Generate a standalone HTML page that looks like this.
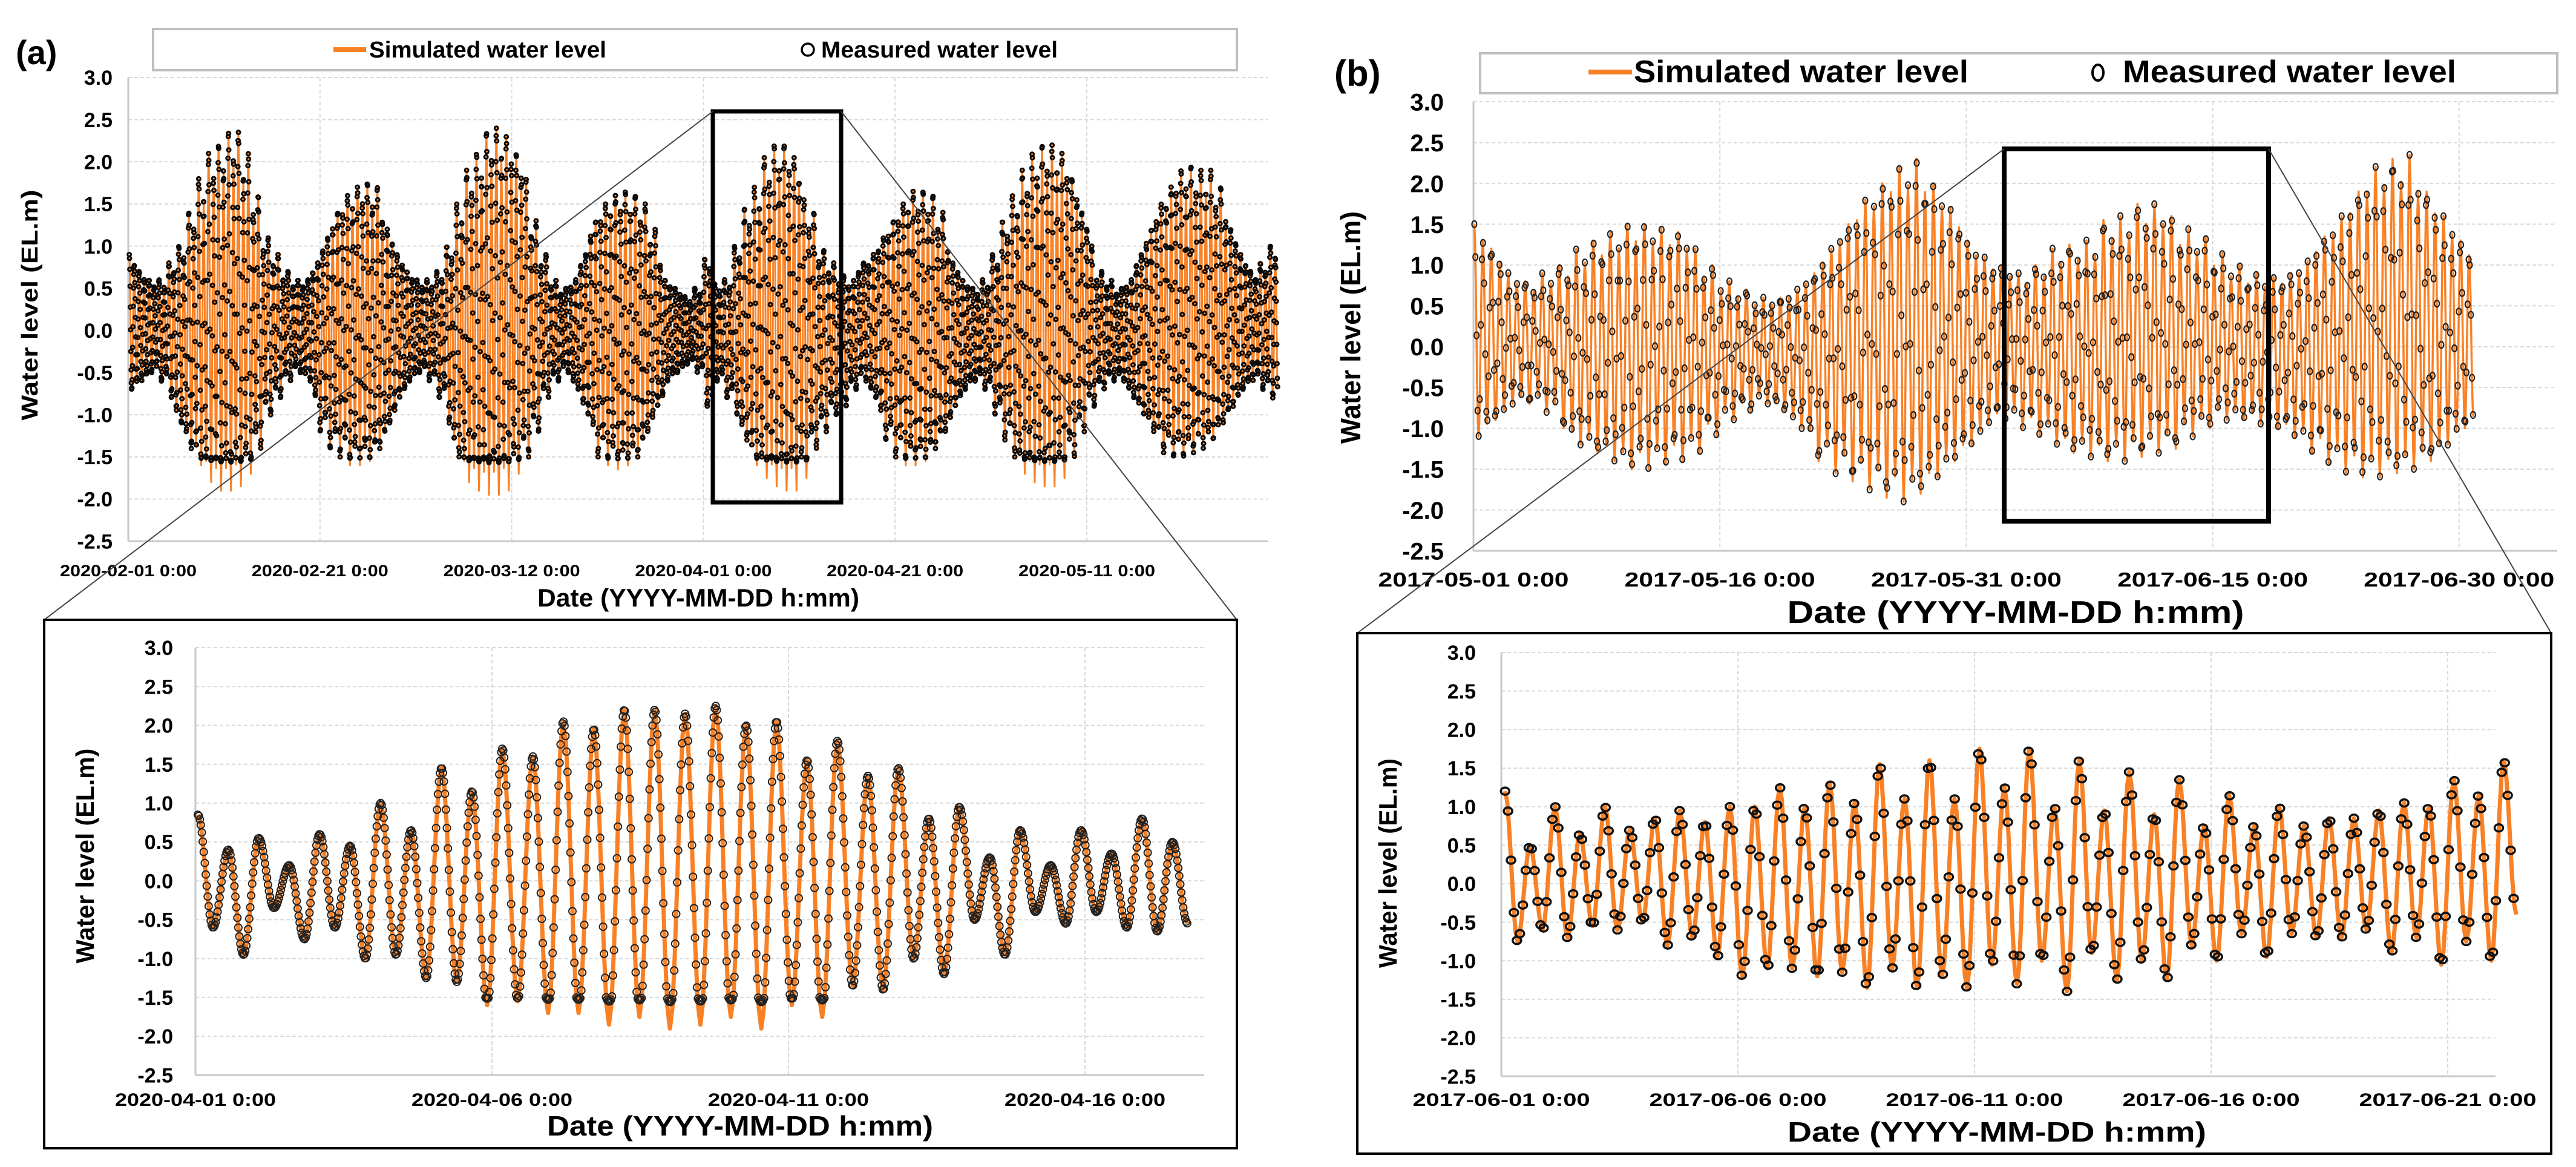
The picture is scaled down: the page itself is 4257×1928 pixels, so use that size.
<!DOCTYPE html>
<html><head><meta charset="utf-8"><title>Water level comparison</title>
<style>
html,body{margin:0;padding:0;background:#fff;}
svg{display:block;font-family:"Liberation Sans",Arial,sans-serif;font-weight:bold;}
</style></head>
<body>
<svg id="fig" xmlns="http://www.w3.org/2000/svg" width="4257" height="1928" viewBox="0 0 4257 1928">
<rect x="0" y="0" width="4257" height="1928" fill="#fff"/>
<g id="layer"></g>
</svg>
<script>
// ---------------- DATA ----------------
const yTickValues = [3.0,2.5,2.0,1.5,1.0,0.5,0.0,-0.5,-1.0,-1.5,-2.0,-2.5];

// Panel (a) overview: daily simulated high / low (2020-02-01 .. 2020-05-30)
const aTopHigh = [0.9,0.7,0.6,0.6,0.8,1.0,1.4,1.8,2.1,2.2,2.35,2.35,2.1,1.6,1.1,0.9,0.7,0.6,0.6,0.8,1.1,1.4,1.6,1.7,1.75,1.7,1.5,1.2,0.9,
0.7,0.6,0.6,0.7,1.0,1.5,1.9,2.1,2.35,2.4,2.3,2.1,1.8,1.3,0.9,0.6,0.5,0.6,0.9,1.3,1.5,1.6,1.65,1.6,1.5,1.2,0.9,0.6,0.5,0.4,0.5,
0.85,0.55,0.6,1.0,1.45,1.7,2.05,2.2,2.2,2.05,1.55,1.4,0.95,0.8,0.65,0.6,0.8,0.9,1.1,1.3,1.5,1.65,1.65,1.6,1.4,1.1,0.8,0.6,0.5,0.6,
0.9,1.3,1.6,1.9,2.1,2.2,2.2,2.1,1.8,1.4,1.0,0.7,0.6,0.5,0.6,0.9,1.2,1.5,1.7,1.9,1.95,1.9,1.9,1.7,1.5,1.2,0.9,0.7,0.8,1.0];
const aTopLow = [-0.7,-0.6,-0.5,-0.6,-0.8,-1.1,-1.4,-1.6,-1.8,-1.9,-1.9,-1.85,-1.7,-1.4,-1.0,-0.8,-0.6,-0.5,-0.6,-0.9,-1.2,-1.4,-1.5,-1.6,-1.6,-1.55,-1.4,-1.1,-0.8,
-0.6,-0.5,-0.6,-0.8,-1.1,-1.5,-1.8,-1.9,-1.95,-1.95,-1.9,-1.7,-1.5,-1.2,-0.8,-0.6,-0.5,-0.7,-1.0,-1.3,-1.5,-1.6,-1.65,-1.6,-1.5,-1.2,-0.9,-0.6,-0.5,-0.4,-0.5,
-0.9,-0.6,-0.8,-1.0,-1.3,-1.6,-1.75,-1.85,-1.9,-1.9,-1.75,-1.4,-1.2,-1.0,-0.9,-0.7,-0.6,-0.8,-1.1,-1.3,-1.5,-1.6,-1.6,-1.55,-1.4,-1.2,-0.9,-0.7,-0.6,-0.7,
-1.0,-1.3,-1.5,-1.7,-1.8,-1.85,-1.85,-1.75,-1.5,-1.2,-0.9,-0.7,-0.6,-0.6,-0.8,-1.0,-1.2,-1.35,-1.45,-1.5,-1.5,-1.45,-1.4,-1.3,-1.1,-0.9,-0.7,-0.6,-0.7,-0.8];
const aTopMeasuredFloor = -1.5;
const aTopXLabels = ['2020-02-01 0:00','2020-02-21 0:00','2020-03-12 0:00','2020-04-01 0:00','2020-04-21 0:00','2020-05-11 0:00'];
const aTopXTickDays = [0,20,40,60,80,100];

// Panel (a) zoom: successive tidal extrema (2020-04-01 .. 2020-04-18)
const aZoomExtrema = [0.85,-0.6,0.4,-0.95,0.55,-0.35,0.2,-0.75,0.6,-0.6,0.45,-1.0,1.0,-0.95,0.65,-1.25,1.45,-1.3,1.15,-1.6,1.7,-1.55,1.6,-1.7,2.05,-1.7,1.95,-1.85,2.2,-1.75,2.2,-1.9,2.15,-1.85,2.25,-1.75,2.0,-1.9,2.05,-1.6,1.55,-1.75,1.8,-1.35,1.35,-1.4,1.45,-1.0,0.8,-1.2,0.95,-0.5,0.3,-0.95,0.65,-0.4,0.2,-0.55,0.65,-0.4,0.35,-0.6,0.8,-0.65,0.5,-0.55];
const aZoomMeasuredFloor = -1.5;
const aZoomXLabels = ['2020-04-01 0:00','2020-04-06 0:00','2020-04-11 0:00','2020-04-16 0:00'];
const aZoomXTickDays = [0,5,10,15];

// Panel (b) overview: daily simulated high / low (2017-05-01 .. 2017-06-30)
const bTopHigh = [1.5,1.2,0.9,0.8,0.9,1.0,1.2,1.3,1.4,1.5,1.5,1.45,1.4,1.2,1.0,0.8,0.7,0.6,0.6,0.7,0.9,1.2,1.5,1.8,2.0,2.2,2.3,2.2,2.0,1.7,1.3,
1.1,1.0,0.9,1.0,1.2,1.25,1.3,1.55,1.6,1.75,1.75,1.6,1.45,1.35,1.15,1.0,0.9,0.85,0.9,1.05,1.35,1.6,1.9,2.2,2.3,2.35,2.2,1.9,1.6,1.3];
const bTopLow = [-1.1,-0.9,-0.7,-0.7,-0.8,-1.0,-1.2,-1.3,-1.4,-1.5,-1.5,-1.45,-1.4,-1.3,-1.1,-0.9,-0.8,-0.7,-0.8,-1.0,-1.2,-1.4,-1.55,-1.65,-1.75,-1.85,-1.9,-1.8,-1.6,-1.4,-1.2,
-0.95,-0.9,-1.0,-1.1,-1.2,-1.3,-1.35,-1.4,-1.4,-1.35,-1.3,-1.25,-1.1,-1.0,-0.9,-0.9,-0.95,-1.0,-1.1,-1.2,-1.3,-1.45,-1.55,-1.6,-1.6,-1.55,-1.5,-1.4,-1.2,-1.0];
const bTopXLabels = ['2017-05-01 0:00','2017-05-16 0:00','2017-05-31 0:00','2017-06-15 0:00','2017-06-30 0:00'];
const bTopXTickDays = [0,15,30,45,60];

// Panel (b) zoom: successive tidal extrema (2017-06-01 .. 2017-06-22)
const bZoomExtrema = [1.2,-0.75,0.5,-0.6,1.0,-0.7,0.65,-0.55,1.0,-0.6,0.7,-0.5,0.85,-0.8,0.95,-0.7,0.8,-0.95,1.0,-1.2,1.0,-1.1,1.25,-1.1,1.0,-1.2,1.3,-1.15,1.05,-1.35,1.55,-1.1,1.1,-1.35,1.6,-1.2,1.1,-1.35,1.75,-1.05,1.25,-1.3,1.75,-1.0,
1.0,-1.4,1.6,-0.9,0.95,-1.25,1.45,-1.0,0.9,-1.25,1.35,-0.8,0.75,-1.0,1.15,-0.65,0.75,-0.95,1.0,-0.65,0.75,-0.7,0.85,-0.7,0.85,-0.6,0.95,-0.9,1.05,-0.7,1.0,-1.05,1.35,-0.75,1.15,-1.0,1.6,-0.4];
const bZoomXLabels = ['2017-06-01 0:00','2017-06-06 0:00','2017-06-11 0:00','2017-06-16 0:00','2017-06-21 0:00'];
const bZoomXTickDays = [0,5,10,15,20];

// ---------------- RENDER ----------------
const NS = 'http://www.w3.org/2000/svg';
const layer = document.getElementById('layer');
const ORANGE = '#F98125';
function mk(tag, attrs, parent){
  const e = document.createElementNS(NS, tag);
  for (const k in attrs) e.setAttribute(k, attrs[k]);
  (parent||layer).appendChild(e);
  return e;
}
function makeScales(c){
  c.sx = d => c.x0 + d * (c.tickPx / c.tickStep);
  c.sy = v => c.yTop + (3 - v) * c.unitPx;
  return c;
}
function drawAxes(c, xLabels, xTickDays){
  const g = mk('g', {});
  
  
  const yBot = c.sy(-2.5);
  yTickValues.forEach(v => {
    const y = c.sy(v);
    if (v > -2.5) {
      const ln = mk('line', {x1:c.x0, x2:c.x1, y1:y, y2:y, stroke:'#d9d9d9', 'stroke-width':c.gridW, 'stroke-dasharray':'6,4'}, g);
      
      
    }
    const t = mk('text', {x:c.yLabelX, y:y + c.yFont*0.36, 'font-size':c.yFont, 'text-anchor':'end', fill:'#000'}, g);
    
    
    t.textContent = (v < 0 ? '-' : '') + Math.abs(v).toFixed(1);
  });
  xTickDays.forEach((d, i) => {
    const x = c.sx(d);
    const ln = mk('line', {x1:x, x2:x, y1:c.yTop, y2:yBot, stroke:'#d9d9d9', 'stroke-width':c.gridW, 'stroke-dasharray':'6,4'}, g);
    
    
    const t = mk('text', {x:x, y:c.xLabelY, 'font-size':c.xFont, 'text-anchor':'middle', textLength:c.xLabelW, lengthAdjust:'spacingAndGlyphs', fill:'#000'}, g);
    
    
    t.textContent = xLabels[i];
  });
  const ax = mk('line', {x1:c.x0, x2:c.x0, y1:c.yTop, y2:yBot, stroke:'#c8c8c8', 'stroke-width':3}, g);
  
  
  const bx = mk('line', {x1:c.x0, x2:c.x1, y1:yBot, y2:yBot, stroke:'#c8c8c8', 'stroke-width':3}, g);
  
  
  const xt = mk('text', {x:c.xTitleX, y:c.xTitleY, 'font-size':c.xTitleFont, 'text-anchor':'middle', textLength:c.xTitleW, lengthAdjust:'spacingAndGlyphs', fill:'#000'}, g);
  
  
  xt.textContent = 'Date (YYYY-MM-DD h:mm)';
  const yt = mk('text', {x:0, y:0, transform:'translate(' + c.yTitleX + ',' + c.yTitleY + ') rotate(-90)', 'font-size':c.yTitleFont, 'text-anchor':'middle', textLength:c.yTitleW, lengthAdjust:'spacingAndGlyphs', fill:'#000'}, g);
  
  
  yt.textContent = 'Water level (EL.m)';
}
function extremaFromDaily(high, low, halfPeriod, t0){
  const out = [];
  for (let k = 0; ; k++) {
    const t = t0 + k * halfPeriod;
    const day = Math.floor(t);
    if (day >= high.length) break;
    const minor = Math.floor(k / 2) % 2 === 1 ? 0.86 : 1;
    out.push([t, (k % 2 === 0 ? high[day] : low[day]) * minor]);
  }
  return out;
}
function extremaFromList(list, halfPeriod, t0){
  return list.map((v, i) => [t0 + i * halfPeriod, v]);
}
function valueAt(ext, t){
  if (t <= ext[0][0]) return ext[0][1];
  for (let i = 1; i < ext.length; i++) {
    if (t <= ext[i][0]) {
      const a = ext[i-1], b = ext[i];
      const s = (t - a[0]) / (b[0] - a[0]);
      return a[1] + (b[1] - a[1]) * (1 - Math.cos(Math.PI * s)) / 2;
    }
  }
  return ext[ext.length-1][1];
}
function drawSeries(c, ext, opts){
  const g = mk('g', {});
  
  
  const tEnd = ext[ext.length-1][0];
  let d = '';
  for (let i = 0; i < ext.length - 1; i++) {
    const a = ext[i], b = ext[i+1];
    for (let j = 0; j < 6; j++) {
      const t = a[0] + (b[0] - a[0]) * j / 6;
      d += (d ? 'L' : 'M') + c.sx(t).toFixed(1) + ',' + c.sy(valueAt(ext, t)).toFixed(1);
    }
  }
  d += 'L' + c.sx(tEnd).toFixed(1) + ',' + c.sy(ext[ext.length-1][1]).toFixed(1);
  const p = mk('path', {d:d, fill:'none', stroke:ORANGE, 'stroke-width':opts.lineW, 'stroke-linejoin':'round'}, g);
  
  
  const mg = mk('g', {fill:'none', stroke:opts.mColor, 'stroke-width':opts.mStroke}, g);
  
  
  for (let t = ext[0][0]; t <= tEnd; t += opts.mStep) {
    let v = valueAt(ext, t);
    if (opts.floor !== undefined && v < opts.floor) v = opts.floor + (v - opts.floor) * 0.15;
    const m = mk('ellipse', {cx:c.sx(t).toFixed(1), cy:c.sy(v).toFixed(1), rx:opts.rx, ry:opts.ry}, mg);
    
    
  }
}

const aTop = makeScales({name:'a-overview', x0:212, x1:2096, tickStep:20, tickPx:316.8, yTop:128, unitPx:139.3, gridW:2,
  yFont:34, yLabelX:186, xFont:27, xLabelY:952, xLabelW:226, xTitleX:1154, xTitleY:1002, xTitleFont:42, xTitleW:532,
  yTitleX:62, yTitleY:504, yTitleFont:38, yTitleW:381});
const aZoom = makeScales({name:'a-zoom', x0:323, x1:1990, tickStep:5, tickPx:490, yTop:1070, unitPx:128.4, gridW:2,
  yFont:34, yLabelX:286, xFont:30, xLabelY:1827, xLabelW:266, xTitleX:1223, xTitleY:1876, xTitleFont:46, xTitleW:638,
  yTitleX:155, yTitleY:1414, yTitleFont:42, yTitleW:355});
const bTop = makeScales({name:'b-overview', x0:2435, x1:4226, tickStep:15, tickPx:407.2, yTop:168, unitPx:134.9, gridW:2,
  yFont:40, yLabelX:2386, xFont:33, xLabelY:969, xLabelW:315, xTitleX:3331, xTitleY:1029, xTitleFont:52, xTitleW:755,
  yTitleX:2248, yTitleY:541, yTitleFont:46, yTitleW:384});
const bZoom = makeScales({name:'b-zoom', x0:2481, x1:4124, tickStep:5, tickPx:391, yTop:1078, unitPx:127.3, gridW:2,
  yFont:34, yLabelX:2439, xFont:30, xLabelY:1827, xLabelW:293, xTitleX:3300, xTitleY:1886, xTitleFont:46, xTitleW:692,
  yTitleX:2308, yTitleY:1426, yTitleFont:42, yTitleW:346});

drawAxes(aTop, aTopXLabels, aTopXTickDays);
drawAxes(aZoom, aZoomXLabels, aZoomXTickDays);
drawAxes(bTop, bTopXLabels, bTopXTickDays);
drawAxes(bZoom, bZoomXLabels, bZoomXTickDays);

drawSeries(aTop, extremaFromDaily(aTopHigh, aTopLow, 0.2588, 0.1), {lineW:3, mColor:'#0a0a0a', mStroke:3, rx:3, ry:3, mStep:1/36, floor:aTopMeasuredFloor});
drawSeries(aZoom, extremaFromList(aZoomExtrema, 0.2568, 0.04), {lineW:7, mColor:'#222', mStroke:2, rx:6, ry:6, mStep:1/60, floor:aZoomMeasuredFloor});
drawSeries(bTop, extremaFromDaily(bTopHigh, bTopLow, 0.2588, 0.05), {lineW:3.5, mColor:'#222', mStroke:2.2, rx:4, ry:5.5, mStep:1/15});
drawSeries(bZoom, extremaFromList(bZoomExtrema, 0.2638, 0.08), {lineW:7, mColor:'#111', mStroke:3.5, rx:7, ry:6, mStep:1/16});
</script>

<svg style="position:absolute;left:0;top:0" xmlns="http://www.w3.org/2000/svg" width="4257" height="1928" viewBox="0 0 4257 1928">
<g font-family="Liberation Sans, Arial, sans-serif" font-weight="bold">
  <text x="26" y="106" font-size="56">(a)</text>
  <text x="2205" y="142" font-size="60">(b)</text>

  <g>
    <rect x="253" y="48" width="1791" height="68" fill="#fff" stroke="#bfbfbf" stroke-width="4"/>
    <line x1="551" y1="82" x2="605" y2="82" stroke="#F98125" stroke-width="8"/>
    <text x="610" y="95" font-size="38" textLength="392" lengthAdjust="spacingAndGlyphs">Simulated water level</text>
    <circle cx="1335" cy="82" r="10" fill="none" stroke="#000" stroke-width="3.5"/>
    <text x="1357" y="95" font-size="38" textLength="391" lengthAdjust="spacingAndGlyphs">Measured water level</text>
  </g>
  <g>
    <rect x="2446" y="88" width="1780" height="66" fill="#fff" stroke="#bfbfbf" stroke-width="4"/>
    <line x1="2625" y1="119" x2="2697" y2="119" stroke="#F98125" stroke-width="8"/>
    <text x="2700" y="136" font-size="52" textLength="553" lengthAdjust="spacingAndGlyphs">Simulated water level</text>
    <ellipse cx="3467" cy="120" rx="9" ry="13" fill="none" stroke="#000" stroke-width="4"/>
    <text x="3508" y="136" font-size="52" textLength="551" lengthAdjust="spacingAndGlyphs">Measured water level</text>
  </g>

  <rect x="1178" y="184" width="212" height="646" fill="none" stroke="#000" stroke-width="7"/>
  <line x1="1178" y1="184" x2="73" y2="1024" stroke="#444" stroke-width="2"/>
  <line x1="1390" y1="184" x2="2044" y2="1024" stroke="#444" stroke-width="2"/>
  <rect x="73" y="1024" width="1971" height="873" fill="none" stroke="#000" stroke-width="4"/>

  <rect x="3312" y="246" width="437" height="615" fill="none" stroke="#000" stroke-width="8"/>
  <line x1="3312" y1="246" x2="2243" y2="1046" stroke="#444" stroke-width="2"/>
  <line x1="3749" y1="246" x2="4216" y2="1046" stroke="#444" stroke-width="2"/>
  <rect x="2243" y="1046" width="1973" height="860" fill="none" stroke="#000" stroke-width="4"/>
</g>
</svg>
</body></html>
